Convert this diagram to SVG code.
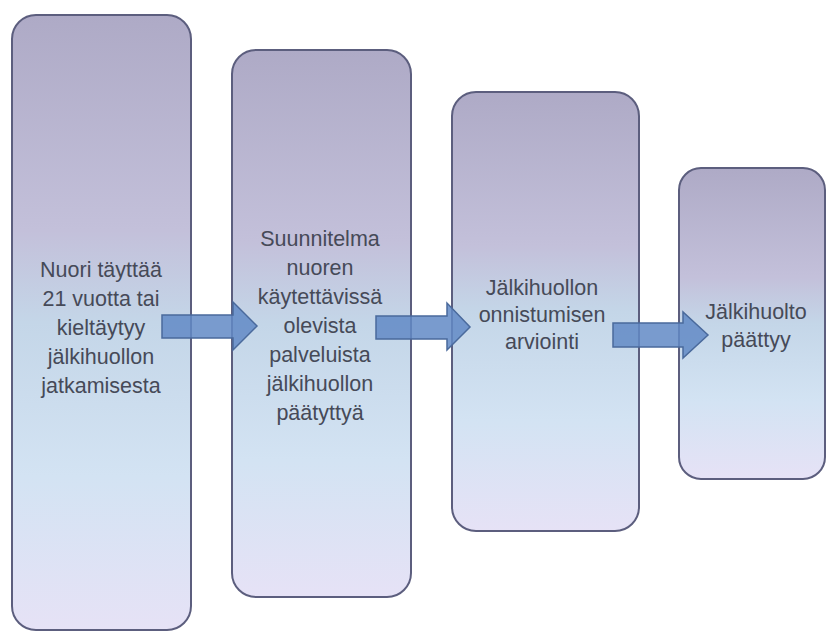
<svg xmlns="http://www.w3.org/2000/svg" width="827" height="632" viewBox="0 0 827 632">
<defs>
<linearGradient id="g" x1="0" y1="0" x2="0" y2="1">
<stop offset="0" stop-color="#aeaac6"/>
<stop offset="0.35" stop-color="#c3c0da"/>
<stop offset="0.5" stop-color="#c4d6e8"/>
<stop offset="0.75" stop-color="#d3e3f3"/>
<stop offset="1" stop-color="#e6e2f6"/>
</linearGradient>
<style>
.box{fill:url(#g);stroke:#5c5e7e;stroke-width:2}
.t{font-family:"Liberation Sans",Arial,sans-serif;font-size:21.5px;fill:#464a58;text-anchor:middle}
.arr{fill:#6189c6;fill-opacity:0.85;stroke:#4a6a9c;stroke-width:1.5}
</style>
</defs>
<rect width="827" height="632" fill="#ffffff"/>
<g id="node1">
<rect class="box" x="12" y="15" width="179" height="615" rx="24"/>
<text class="t" x="101" y="277">Nuori täyttää</text>
<text class="t" x="101" y="306">21 vuotta tai</text>
<text class="t" x="101" y="335">kieltäytyy</text>
<text class="t" x="101" y="364">jälkihuollon</text>
<text class="t" x="101" y="393">jatkamisesta</text>
</g>
<g id="node2">
<rect class="box" x="232" y="50" width="179" height="547" rx="24"/>
<text class="t" x="320" y="246">Suunnitelma</text>
<text class="t" x="320" y="275">nuoren</text>
<text class="t" x="320" y="304">käytettävissä</text>
<text class="t" x="320" y="333">olevista</text>
<text class="t" x="320" y="362">palveluista</text>
<text class="t" x="320" y="391">jälkihuollon</text>
<text class="t" x="320" y="420">päätyttyä</text>
</g>
<g id="node3">
<rect class="box" x="452" y="92" width="187" height="439" rx="24"/>
<text class="t" x="542" y="295">Jälkihuollon</text>
<text class="t" x="542" y="322">onnistumisen</text>
<text class="t" x="542" y="349">arviointi</text>
</g>
<g id="node4">
<rect class="box" x="679" y="168" width="146" height="311" rx="22"/>
<text class="t" x="756" y="319">Jälkihuolto</text>
<text class="t" x="756" y="347">päättyy</text>
</g>
<g id="connectors">
<polygon class="arr" points="162,315 233,315 233,302 257,326 233,350 233,338 162,338"/>
<polygon class="arr" points="376,316 447,316 447,303 470,327 447,350 447,339 376,339"/>
<polygon class="arr" points="613,323 683,323 683,312 708,335 683,358 683,347 613,347"/>
</g>
</svg>
